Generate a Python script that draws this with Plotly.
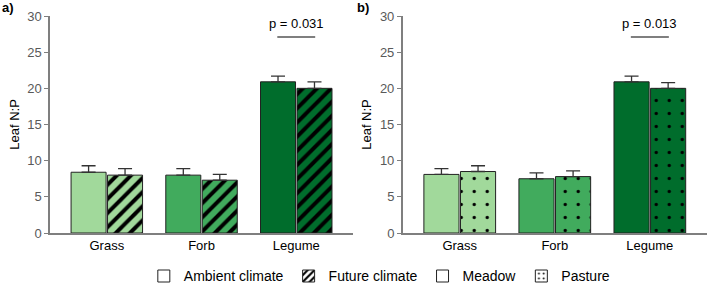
import plotly.graph_objects as go

categories = ["Grass", "Forb", "Legume"]
colors = ["#a1d99b", "#41ab5d", "#006d2c"]

# Panel a
ambient = [8.4, 8.0, 20.9]
ambient_err = [0.9, 0.9, 0.8]
future = [8.0, 7.3, 20.0]
future_err = [0.9, 0.8, 0.9]

# Panel b
meadow = [8.1, 7.5, 20.9]
meadow_err = [0.8, 0.8, 0.8]
pasture = [8.5, 7.8, 20.0]
pasture_err = [0.8, 0.8, 0.8]

p_a = "p = 0.031"
p_b = "p = 0.013"
y_ticks = [0, 5, 10, 15, 20, 25, 30]

FONT = "Liberation Sans, Arial, sans-serif"
LINE = "#222222"

fig = go.Figure()

def add_series(values, errs, pattern, group, xa, ya):
    for cat, v, e, c in zip(categories, values, errs, colors):
        mk = dict(color=c, line=dict(color=LINE, width=1))
        if pattern == "/":
            mk["pattern"] = dict(shape="/", fgcolor="#000000", bgcolor=c, fillmode="replace",
                                 fgopacity=1, size=10, solidity=0.4)
        elif pattern == ".":
            mk["pattern"] = dict(shape=".", fgcolor="#000000", bgcolor=c, fillmode="replace",
                                 fgopacity=1, size=13, solidity=0.05)
        fig.add_trace(go.Bar(
            x=[cat], y=[v], marker=mk, xaxis=xa, yaxis=ya, showlegend=False,
            offsetgroup=group,
            error_y=dict(type="data", array=[e], arrayminus=[0], symmetric=False,
                         color="#333333", thickness=1.3, width=7),
        ))

add_series(ambient, ambient_err, None, "g1", "x", "y")
add_series(future, future_err, "/", "g2", "x", "y")
add_series(meadow, meadow_err, None, "g1", "x2", "y2")
add_series(pasture, pasture_err, ".", "g2", "x2", "y2")

# legend entries (on a hidden axis so they don't affect bar grouping)
leg = [("Ambient climate", ""), ("Future climate", "/"), ("Meadow", ""), ("Pasture", ".")]
for name, shp in leg:
    mk = dict(color="white", line=dict(color=LINE, width=1))
    if shp:
        mk["pattern"] = dict(shape=shp, fgcolor="black", bgcolor="white", fillmode="replace",
                             fgopacity=1,
                             size=6 if shp == "/" else 6, solidity=0.45 if shp == "/" else 0.12)
    fig.add_trace(go.Bar(x=[None], y=[None], name=name, marker=mk, xaxis="x3", yaxis="y3",
                         showlegend=True))

axis_y = dict(range=[0, 30], tickvals=y_ticks, showline=True, linecolor="#7f7f7f", linewidth=1.5,
              ticks="outside", ticklen=4, tickcolor="#7f7f7f", showgrid=False, zeroline=False,
              tickfont=dict(family=FONT, size=13, color="#595959"),
              title=dict(text="Leaf N:P", font=dict(family=FONT, size=13, color="black"), standoff=5))
axis_x = dict(range=[-0.6, 2.6], showline=True, linecolor="#7f7f7f", linewidth=1.5, ticks="",
              showgrid=False, tickfont=dict(family=FONT, size=13, color="black"),
              categoryorder="array", categoryarray=categories)

fig.update_layout(
    width=709, height=295,
    margin=dict(l=0, r=0, t=16, b=62),
    paper_bgcolor="white", plot_bgcolor="white",
    barmode="group", bargap=0.23, bargroupgap=0.04,
    xaxis=dict(domain=[0.0705, 0.498], anchor="y", **axis_x),
    yaxis=dict(domain=[0, 1], anchor="x", **axis_y),
    xaxis2=dict(domain=[0.568, 0.997], anchor="y2", **axis_x),
    yaxis2=dict(domain=[0, 1], anchor="x2", **axis_y),
    xaxis3=dict(domain=[0, 0.01], anchor="y3", visible=False),
    yaxis3=dict(domain=[0, 0.01], anchor="x3", visible=False),
    legend=dict(orientation="h", x=0.535, xanchor="center", y=-0.2, yanchor="middle",
                font=dict(family=FONT, size=14, color="black"), itemclick=False,
                tracegroupgap=0, itemwidth=30),
    font=dict(family=FONT),
)

for xa, ya, txt in [("x", "y", p_a), ("x2", "y2", p_b)]:
    fig.add_shape(type="line", xref=xa, yref=ya, x0=1.8, x1=2.2, y0=27.1, y1=27.1,
                  line=dict(color="#555555", width=1.3))
    fig.add_annotation(xref=xa, yref=ya, x=2, y=27.6, text=txt, showarrow=False, yanchor="bottom",
                       font=dict(family=FONT, size=13, color="black"))

fig.add_annotation(xref="paper", yref="paper", x=0, y=1.04, text="<b>a)</b>", showarrow=False,
                   xanchor="left", yanchor="middle", font=dict(family=FONT, size=13, color="black"))
fig.add_annotation(xref="paper", yref="paper", x=0.5, y=1.04, text="<b>b)</b>", showarrow=False,
                   xanchor="left", yanchor="middle", font=dict(family=FONT, size=13, color="black"))

fig.write_html("out.html")
